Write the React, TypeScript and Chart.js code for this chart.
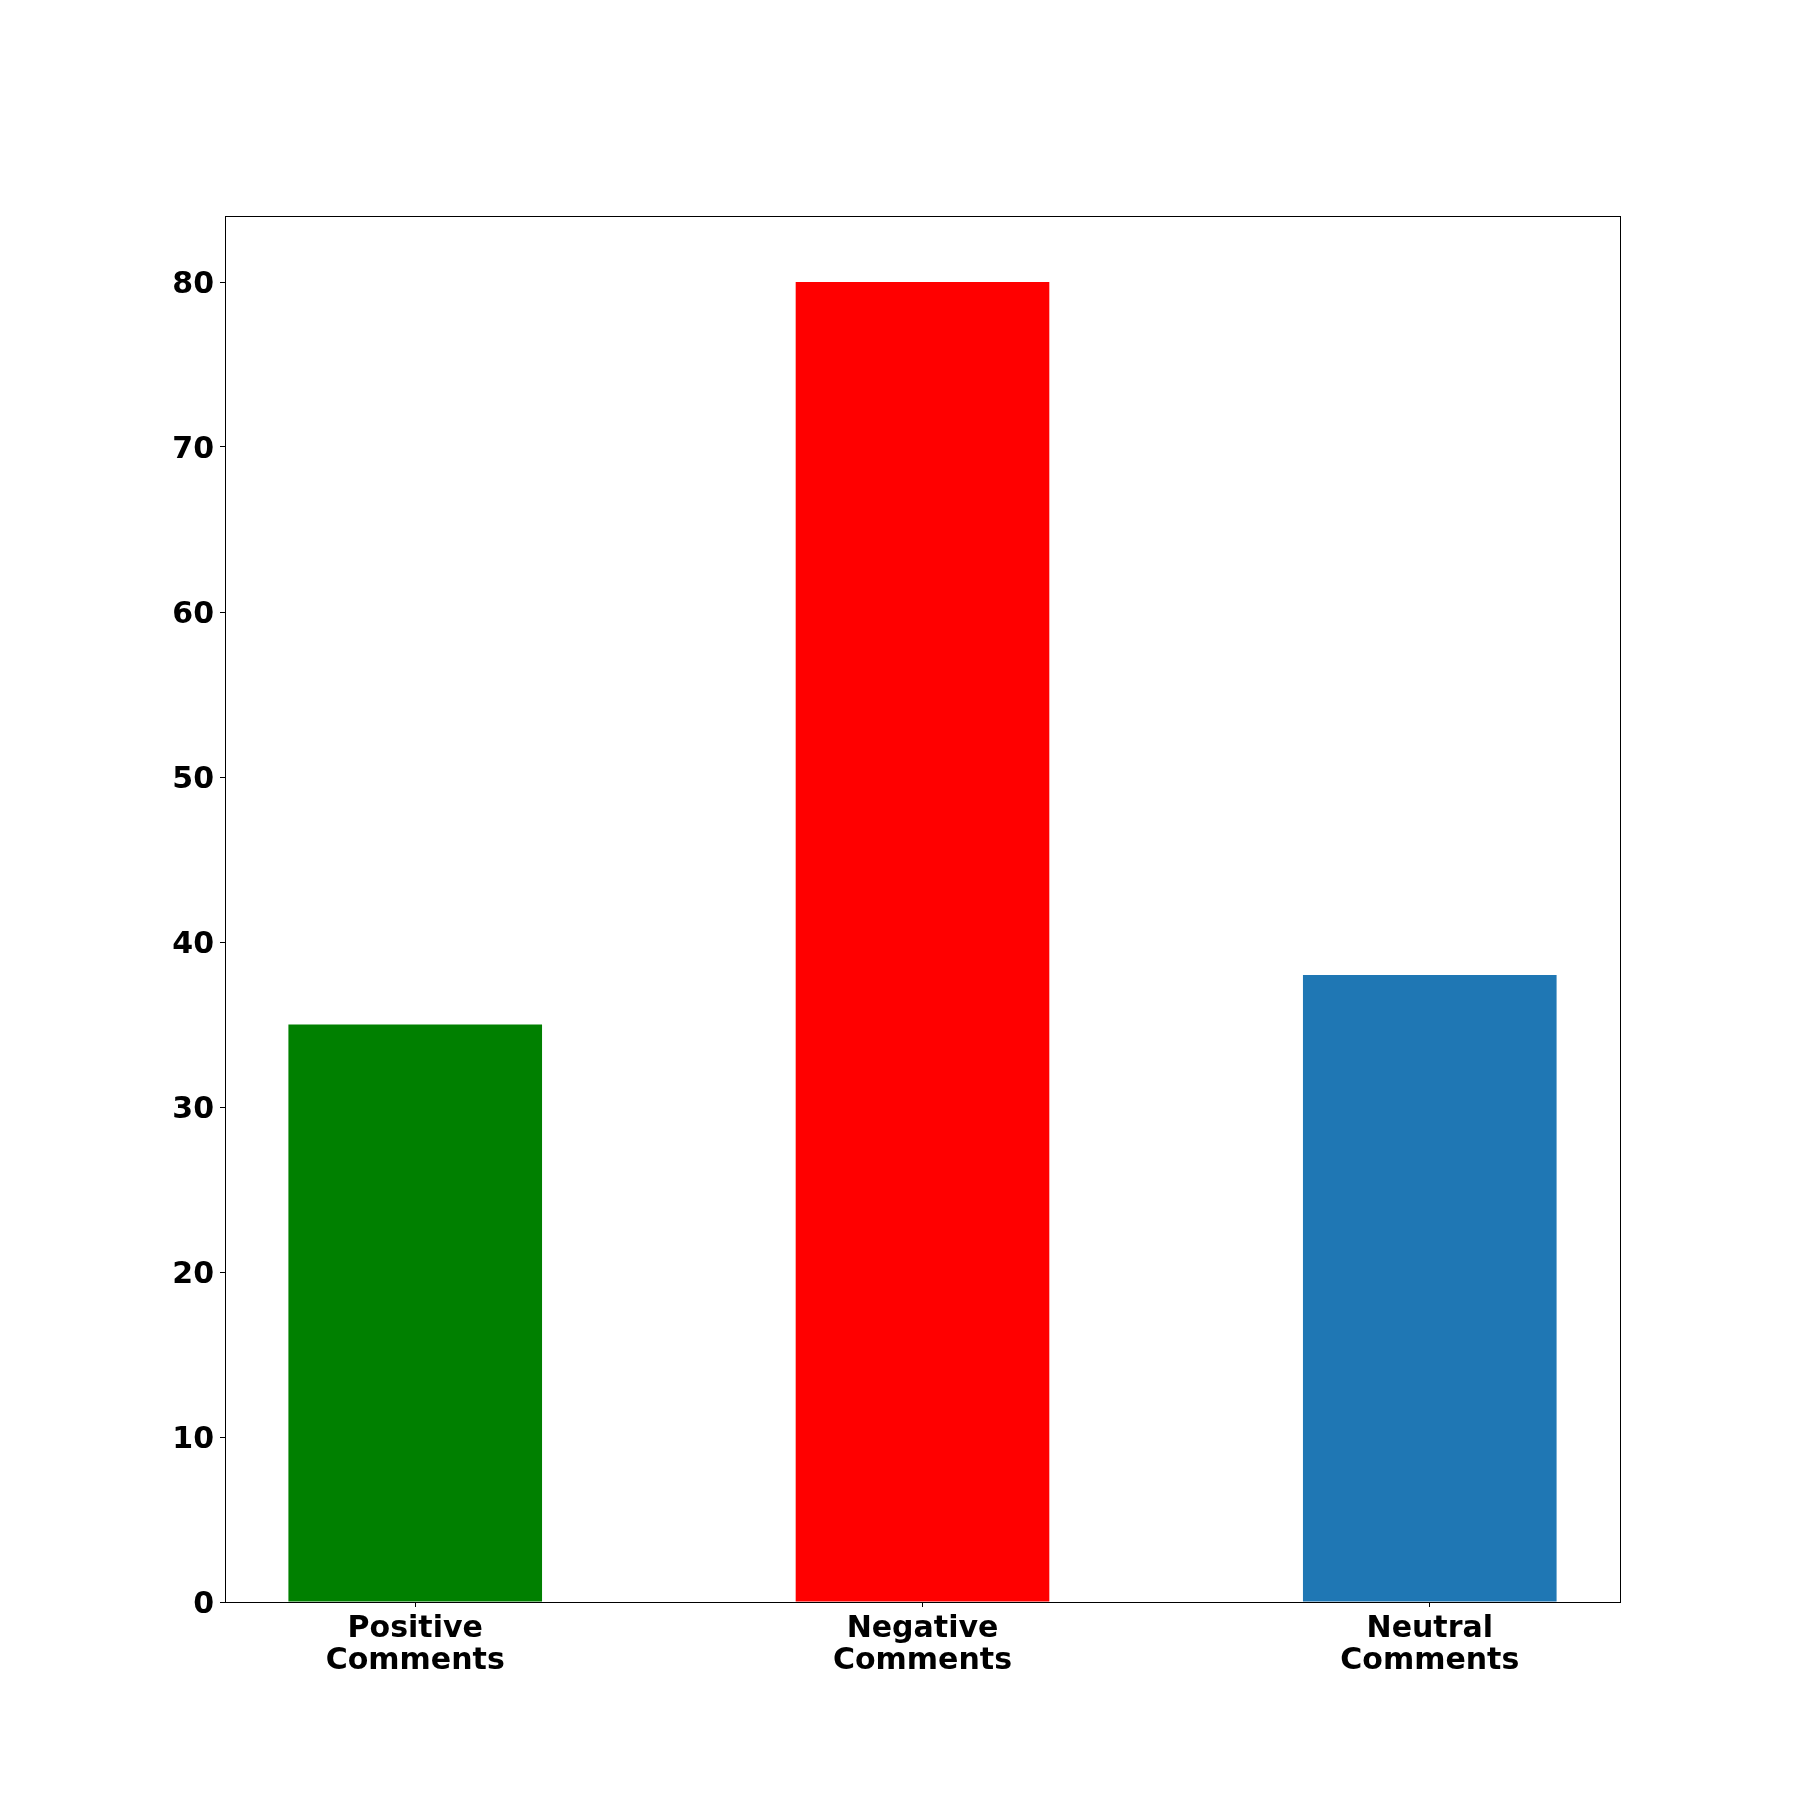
import React, { useEffect, useRef } from "react";
import { Chart, registerables } from "chart.js";

Chart.register(...registerables);

const categories = ["Positive Comments", "Negative Comments", "Neutral Comments"];
const tickLabels = [["Positive", "Comments"], ["Negative", "Comments"], ["Neutral", "Comments"]];
const values = [35, 80, 38];
const barColors = ["#008000", "#ff0000", "#1f77b4"];
const yTicks = [0, 10, 20, 30, 40, 50, 60, 70, 80];

const frame = {
  id: "frame",
  afterDraw(chart: any) {
    const { ctx, chartArea } = chart;
    ctx.save();
    ctx.strokeStyle = "#000";
    ctx.lineWidth = 1;
    ctx.strokeRect(
      Math.round(chartArea.left) + 0.5,
      Math.round(chartArea.top) + 0.5,
      Math.round(chartArea.right - chartArea.left),
      Math.round(chartArea.bottom - chartArea.top)
    );
    ctx.restore();
  },
};

export default function App() {
  const ref = useRef<HTMLCanvasElement | null>(null);
  useEffect(() => {
    const xFont = { family: "'DejaVu Sans'", size: 30, weight: "bold" as const, lineHeight: 1.07 };
    const yFont = { family: "'DejaVu Sans'", size: 30, weight: "bold" as const, lineHeight: 1.0 };
    const chart = new Chart(ref.current!, {
      type: "bar",
      data: {
        datasets: [
          {
            label: "Comments",
            data: categories.map((c, i) => ({ x: i, y: values[i] })),
            backgroundColor: barColors,
            borderWidth: 0,
            barPercentage: 0.5,
            categoryPercentage: 1.0,
          },
        ],
      },
      options: {
        animation: false,
        responsive: false,
        maintainAspectRatio: false,
        layout: { padding: { left: 0, top: 216, right: 180, bottom: 0 } },
        plugins: { legend: { display: false }, tooltip: { enabled: false } },
        scales: {
          x: {
            type: "linear",
            min: -0.375,
            max: 2.375,
            offset: false,
            grid: { display: true, offset: false, drawOnChartArea: false, tickLength: 5, tickColor: "#000", tickWidth: 1 },
            border: { display: false },
            afterBuildTicks: (s: any) => {
              s.ticks = categories.map((c, i) => ({ value: i }));
            },
            afterFit: (s: any) => {
              s.height = 198;
            },
            ticks: {
              color: "#000",
              font: xFont,
              padding: 6,
              maxRotation: 0,
              autoSkip: false,
              callback: (v: any) => tickLabels[Math.round(Number(v))] ?? "",
            },
          },
          y: {
            type: "linear",
            min: 0,
            max: 84,
            grid: { display: true, drawOnChartArea: false, tickLength: 5, tickColor: "#000", tickWidth: 1 },
            border: { display: false },
            afterBuildTicks: (s: any) => {
              s.ticks = yTicks.map((v) => ({ value: v }));
            },
            afterFit: (s: any) => {
              s.width = 225;
            },
            ticks: { color: "#000", font: yFont, padding: 6, stepSize: 10, labelOffset: 3.5 },
          },
        },
      },
      plugins: [frame],
    });
    return () => chart.destroy();
  }, []);
  return (
    <div style={{ position: "absolute", left: 0, top: 0, width: 1800, height: 1800, background: "#fff" }}>
      <canvas ref={ref} width={1800} height={1800} style={{ width: 1800, height: 1800 }} />
    </div>
  );
}
